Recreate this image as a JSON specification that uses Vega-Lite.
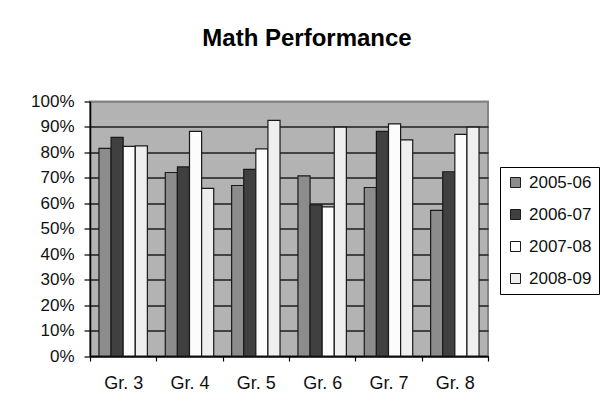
{
  "$schema": "https://vega.github.io/schema/vega-lite/v6.json",
  "width": 398,
  "height": 254.5,
  "autosize": {"type": "none"},
  "padding": {"left": 90, "top": 101.5, "right": 117, "bottom": 57},
  "background": "white",
  "title": {
    "text": "Math Performance",
    "font": "Liberation Sans",
    "fontSize": 24,
    "fontWeight": "bold",
    "color": "#000000",
    "anchor": "middle",
    "dx": 18,
    "offset": 42
  },
  "config": {
    "font": "Liberation Sans",
    "view": {"fill": "#b3b3b3", "stroke": "#858585", "strokeWidth": 2}
  },
  "data": {
    "values": [
      {"grade": "Gr. 3", "year": "2005-06", "value": 81.6},
      {"grade": "Gr. 3", "year": "2006-07", "value": 85.9},
      {"grade": "Gr. 3", "year": "2007-08", "value": 82.4},
      {"grade": "Gr. 3", "year": "2008-09", "value": 82.6},
      {"grade": "Gr. 4", "year": "2005-06", "value": 72.1},
      {"grade": "Gr. 4", "year": "2006-07", "value": 74.3},
      {"grade": "Gr. 4", "year": "2007-08", "value": 88.3},
      {"grade": "Gr. 4", "year": "2008-09", "value": 65.9},
      {"grade": "Gr. 5", "year": "2005-06", "value": 67.0},
      {"grade": "Gr. 5", "year": "2006-07", "value": 73.3},
      {"grade": "Gr. 5", "year": "2007-08", "value": 81.4},
      {"grade": "Gr. 5", "year": "2008-09", "value": 92.6},
      {"grade": "Gr. 6", "year": "2005-06", "value": 70.8},
      {"grade": "Gr. 6", "year": "2006-07", "value": 59.4},
      {"grade": "Gr. 6", "year": "2007-08", "value": 58.6},
      {"grade": "Gr. 6", "year": "2008-09", "value": 89.9},
      {"grade": "Gr. 7", "year": "2005-06", "value": 66.2},
      {"grade": "Gr. 7", "year": "2006-07", "value": 88.3},
      {"grade": "Gr. 7", "year": "2007-08", "value": 91.2},
      {"grade": "Gr. 7", "year": "2008-09", "value": 84.9},
      {"grade": "Gr. 8", "year": "2005-06", "value": 57.2},
      {"grade": "Gr. 8", "year": "2006-07", "value": 72.4},
      {"grade": "Gr. 8", "year": "2007-08", "value": 87.1},
      {"grade": "Gr. 8", "year": "2008-09", "value": 89.9}
    ]
  },
  "mark": {"type": "bar", "stroke": "#1a1a1a", "strokeWidth": 1.2},
  "encoding": {
    "x": {
      "field": "grade",
      "type": "nominal",
      "scale": {"paddingInner": 0, "paddingOuter": 0},
      "axis": {
        "title": null,
        "labelAngle": 0,
        "labelFontSize": 18,
        "labelColor": "#111111",
        "labelPadding": 13,
        "tickBand": "extent",
        "tickSize": 5,
        "tickColor": "#000000",
        "tickWidth": 1.2,
        "domainColor": "#000000",
        "domainWidth": 1.5
      }
    },
    "xOffset": {
      "field": "year",
      "type": "nominal",
      "scale": {"paddingInner": 0, "paddingOuter": 0.74}
    },
    "y": {
      "field": "value",
      "type": "quantitative",
      "scale": {"domain": [0, 100], "nice": false},
      "axis": {
        "title": null,
        "values": [0, 10, 20, 30, 40, 50, 60, 70, 80, 90, 100],
        "labelExpr": "datum.value + '%'",
        "labelFontSize": 17,
        "labelColor": "#111111",
        "labelPadding": 10,
        "tickSize": 6,
        "tickColor": "#000000",
        "tickWidth": 1.2,
        "domainColor": "#000000",
        "domainWidth": 1.5,
        "grid": true,
        "gridColor": {"condition": {"test": "datum.value >= 100", "value": "#858585"}, "value": "#1e1e1e"},
        "gridWidth": 1.5
      }
    },
    "fill": {
      "field": "year",
      "type": "nominal",
      "scale": {
        "domain": ["2005-06", "2006-07", "2007-08", "2008-09"],
        "range": ["#8c8c8c", "#404040", "#fcfcfc", "#efefef"]
      },
      "legend": {
        "title": null,
        "orient": "none",
        "legendX": 410,
        "legendY": 65.5,
        "strokeColor": "#000000",
        "fillColor": "#ffffff",
        "padding": 7,
        "symbolType": "square",
        "symbolSize": 100,
        "symbolStrokeColor": "#1a1a1a",
        "symbolStrokeWidth": 1,
        "labelFontSize": 17,
        "labelColor": "#111111",
        "labelOffset": 5,
        "rowPadding": 14,
        "labelLimit": 200
      }
    }
  }
}
